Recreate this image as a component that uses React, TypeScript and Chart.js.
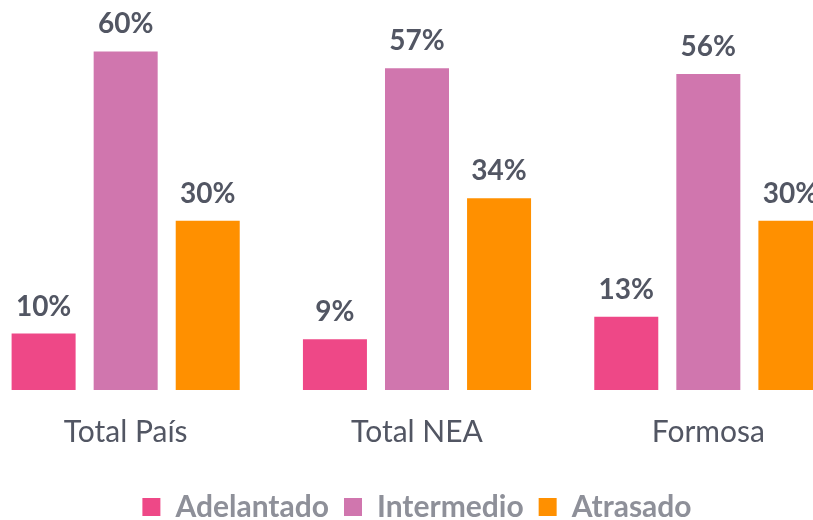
import React, { useEffect, useRef } from "react";
import { Chart, registerables } from "chart.js";

Chart.register(...registerables);

const categories = ["Total País", "Total NEA", "Formosa"];
const seriesNames = ["Adelantado", "Intermedio", "Atrasado"];
const adelantado = [10, 9, 13];
const intermedio = [60, 57, 56];
const atrasado = [30, 34, 30];
const seriesColors = ["#EE4887", "#D076AE", "#FF9000"];

const FONT = "Lato, 'Open Sans', sans-serif";

const dataLabelPlugin = {
  id: "dataLabels",
  afterDatasetsDraw(chart: any) {
    const ctx = chart.ctx;
    ctx.save();
    ctx.font = `bold 28px ${FONT}`;
    ctx.fillStyle = "#525663";
    ctx.textAlign = "center";
    ctx.textBaseline = "alphabetic";
    chart.data.datasets.forEach((ds: any, i: number) => {
      const meta = chart.getDatasetMeta(i);
      meta.data.forEach((bar: any, j: number) => {
        ctx.fillText(`${ds.data[j]}%`, bar.x, bar.y - 18);
      });
    });
    ctx.restore();
  },
};

export default function App() {
  const ref = useRef<HTMLCanvasElement>(null);
  useEffect(() => {
    document.body.style.margin = "0";
    const values = [adelantado, intermedio, atrasado];
    const chart = new Chart(ref.current!, {
      type: "bar",
      data: {
        labels: categories,
        datasets: seriesNames.map((name, i) => ({
          label: name,
          data: values[i],
          backgroundColor: seriesColors[i],
          borderWidth: 0,
          categoryPercentage: 0.845,
          barPercentage: 0.78,
        })),
      },
      options: {
        animation: false,
        responsive: false,
        maintainAspectRatio: false,
        layout: { padding: { top: 0, bottom: 0, left: 0, right: 0 } },
        scales: {
          x: {
            grid: { display: false, drawTicks: false },
            border: { display: false },
            ticks: {
              color: "#525663",
              font: { family: FONT, size: 30 },
              padding: 24,
            },
            title: {
              display: true,
              text: " ",
              font: { size: 3, lineHeight: 1 },
              padding: 0,
            },
          },
          y: {
            display: false,
            min: 0,
            max: 70,
          },
        },
        plugins: {
          legend: {
            position: "bottom",
            labels: {
              color: "#8E9099",
              font: { family: FONT, size: 30, weight: "bold" },
              boxWidth: 18,
              boxHeight: 18,
              padding: 15,
            },
          },
          tooltip: { enabled: false },
        },
      },
      plugins: [dataLabelPlugin],
    });
    return () => chart.destroy();
  }, []);
  return (
    <div style={{ position: "relative", width: 813, height: 520, overflow: "hidden" }}>
      <canvas
        ref={ref}
        width={874}
        height={537}
        style={{ position: "absolute", left: -20, top: -5, width: 874, height: 537 }}
      />
    </div>
  );
}
